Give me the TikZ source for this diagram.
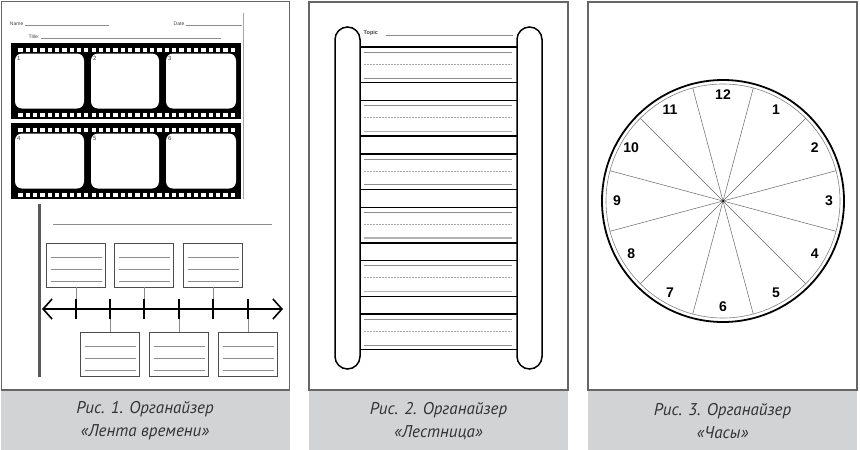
\documentclass[tikz,border=0pt]{standalone}
\usepackage{fontspec}
\setsansfont{Liberation Sans}
\newfontfamily\capfont{PT Sans}
\usetikzlibrary{arrows.meta}
\definecolor{capgray}{HTML}{D1D3D4}

\begin{document}
\begin{tikzpicture}[
    x=1pt, y=-1pt,
    panel/.style={
      draw=black!60,
      line width=1.2pt
    },
    caption/.style={
      fill=capgray
    },
    captext/.style={
      font=\capfont\itshape\fontsize{17}{23}\selectfont,
      text=black!80,
      align=center
    },
    tiny/.style={
      font=\sffamily\fontsize{5}{6}\selectfont,
      text=black!75,
      inner sep=0.5pt
    },
    rule/.style={
      draw=black!45,
      line width=0.6pt
    },
    frame/.style={
      fill=white,
      rounded corners=7pt
    },
    card/.style={
      draw=black!70,
      line width=0.8pt,
      minimum width=59pt,
      minimum height=44pt,
      inner sep=0pt,
      path picture={
        \foreach \k in {14,26,38}
          \draw[rule] ([xshift=4pt,yshift={-\k pt}]path picture bounding box.north west)
            -- ([xshift=-4pt,yshift={-\k pt}]path picture bounding box.north east);
      }
    },
    link/.style={
      draw=black!45,
      line width=1pt
    },
    tick/.style={
      line width=2.2pt
    },
    rail/.style={
      line width=1.5pt,
      rounded corners=12.5pt
    },
    rung/.style={
      line width=1.4pt
    },
    hour/.style={
      font=\sffamily\bfseries\fontsize{14}{14}\selectfont,
      inner sep=0pt
    }
  ]

    \useasboundingbox (0,0) rectangle (860,450);

    % --- Caption bands
    \fill[caption] (1,390) rectangle (290,450);
    \fill[caption] (309,390) rectangle (568,450);
    \fill[caption] (588,390) rectangle (857,450);

    \node[captext] (cap1) at (145,421) {Рис. 1. Органайзер\\«Лента времени»};
    \node[captext] (cap2) at (438.5,421) {Рис. 2. Органайзер\\«Лестница»};
    \node[captext] (cap3) at (722.5,421) {Рис. 3. Органайзер\\«Часы»};

    % --- Panel frames
    \draw[panel] (1.3,1.5) rectangle (289.5,390);
    \draw[panel] (309,2) rectangle (568,390);
    \draw[panel] (588,2) rectangle (857,390);

    % --- Panel 1: header
    \draw[black!35, line width=0.6pt] (243,13) -- (243,199);
    \node[tiny, anchor=east] (name) at (24,24) {Name};
    \draw[rule] (25,25.5) -- (109,25.5);
    \node[tiny, anchor=east] (date) at (185,24) {Date};
    \draw[rule] (186,25.5) -- (242,25.5);
    \node[tiny, anchor=east] (title) at (40,36.5) {Title:};
    \draw[rule] (41,38) -- (221,38);

    % --- Panel 1: film strips
    \foreach \s/\t in {1/43, 2/123} {
      \fill (11,\t) rectangle (241,{\t+76});
      \foreach \i in {0,...,29} {
        \fill[white] ({18.3+7.32*\i},{\t+5}) rectangle ++(4.3,4);
        \fill[white] ({18.3+7.32*\i},{\t+70}) rectangle ++(4.3,4);
      }
      \foreach \f/\a/\b in {1/15/84, 2/91/159, 3/166/236} {
        \fill[frame] (\a,{\t+10.5}) rectangle (\b,{\t+65.5});
        \pgfmathtruncatemacro\num{3*(\s-1)+\f}
        \node[tiny, font=\sffamily\fontsize{6}{6}\selectfont, anchor=north west]
          (num\num) at ({\a+1.5},{\t+13}) {\num};
      }
    }

    % --- Panel 1: timeline
    \draw[line width=3pt, black!65] (39,204) -- (39,377);
    \draw[rule] (53,224) -- (272,224);

    \coordinate (tl) at (42,309);
    \coordinate (tr) at (283,309);
    \foreach \i/\x in {1/76, 2/110, 3/144, 4/179, 5/213, 6/248}
      \coordinate (t\i) at (\x,309);

    \node[card] (u1) at (76,265) {};
    \node[card] (u2) at (144,265) {};
    \node[card] (u3) at (213,265) {};
    \node[card] (l1) at (110,354.5) {};
    \node[card] (l2) at (179,354.5) {};
    \node[card] (l3) at (248,354.5) {};

    \draw[link] (u1.south) -- (t1);
    \draw[link] (u2.south) -- (t3);
    \draw[link] (u3.south) -- (t5);
    \draw[link] (t2) -- (l1.north);
    \draw[link] (t4) -- (l2.north);
    \draw[link] (t6) -- (l3.north);

    \draw[line width=1.6pt,
      {Straight Barb[length=9pt,width=20pt]}-{Straight Barb[length=9pt,width=20pt]}]
      (tl) -- (tr);
    \foreach \i in {1,...,6}
      \draw[tick] ([yshift=10pt]t\i) -- ([yshift=-10pt]t\i);

    % --- Panel 2: ladder
    \draw[rail] (335,27) rectangle (360,369);
    \draw[rail] (517,27) rectangle (542,369);

    \node[tiny, font=\sffamily\bfseries\fontsize{5.5}{6}\selectfont, anchor=west] (topic) at (363,33.5) {Topic};
    \draw[rule] (386,35) -- (513,35);

    \foreach \k/\w/\c in {0/0.7/45, 1/1.5/30, 2/0.7/45, 3/1.5/30, 4/1.5/30, 5/0.7/45} {
      \pgfmathsetmacro\top{47+53.4*\k}
      \draw[rung] (360,\top) -- (517,\top);
      \draw[rung] (360,{\top+35.7}) -- (517,{\top+35.7});
      \draw[rule] (364,{\top+5}) -- (512,{\top+5});
      \draw[rule, draw=black!35, dash pattern=on 1.5pt off 1.5pt] (364,{\top+17}) -- (512,{\top+17});
      \draw[rule, draw=black!\c, line width=\w pt] (364,{\top+31}) -- (512,{\top+31});
    }

    % --- Panel 3: clock
    \coordinate (ctr) at (723,201);
    \draw[line width=1.8pt] (ctr) circle[radius=121pt];
    \draw[black!50, line width=0.6pt] (ctr) circle[radius=117pt];
    \foreach \a in {15,45,...,345}
      \draw[black!60, line width=0.5pt] (ctr) -- ++(\a:117);
    \fill (ctr) circle[radius=1pt];
    \foreach \n in {1,...,12}
      \node[hour] (h\n) at ([shift={({30*\n-90}:106)}]ctr) {\n};

  \end{tikzpicture}
\end{document}
